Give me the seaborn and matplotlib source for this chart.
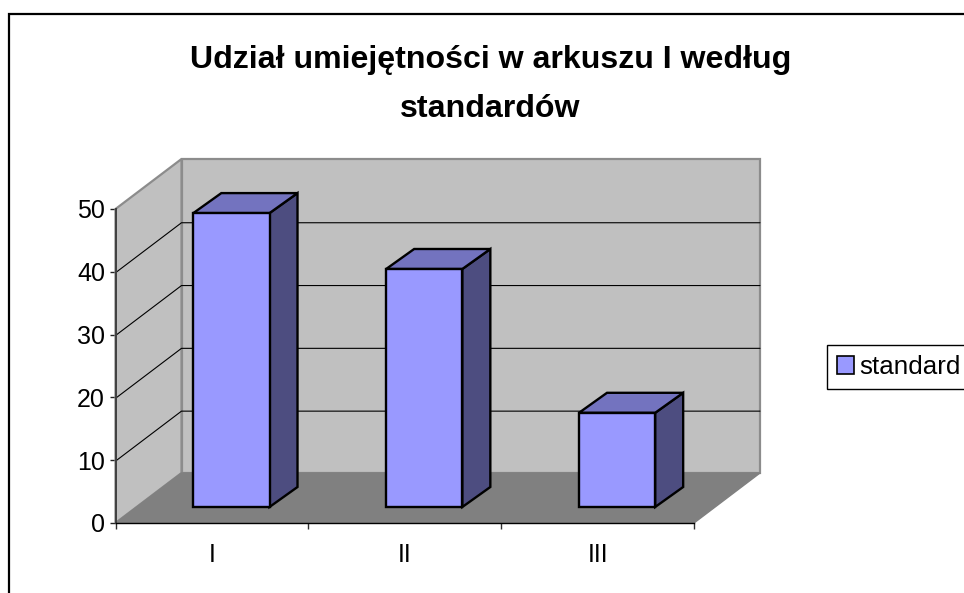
import matplotlib
matplotlib.use("Agg")
import matplotlib.pyplot as plt
from matplotlib.lines import Line2D
from matplotlib.patches import Patch, Polygon
import pandas as pd
import seaborn as sns

categories = ["I", "II", "III"]
values = [46.8, 37.9, 15]
y_ticks = [0, 10, 20, 30, 40, 50]
series_name = "standard"
title = "Udział umiejętności w arkuszu I według\nstandardów"

W, H = 964, 593
sns.set_theme(style="white")
plt.rcParams["font.family"] = ["Liberation Sans", "DejaVu Sans"]

fig = plt.figure(figsize=(W / 100, H / 100), dpi=100, facecolor="white")
L, R, T, B = 115.5, 694, 209, 523
ax = fig.add_axes([L / W, 1 - B / H, (R - L) / W, (B - T) / H])
ax.set_facecolor("none")

ux, uy = (R - L) / 3, (B - T) / 50
x0, x1, y0, y1 = -0.5, 2.5, 0, 50
wdx, wdy = 66 / ux, 50 / uy       # depth of the walls
bdx, bdy = 28 / ux, 20 / uy       # depth of a bar
sx, sy = 19.5 / ux, 16 / uy       # position of the bar inside the floor

WALL, FLOOR, EDGE = "#c0c0c0", "#808080", "#8c8c8c"
FRONT, TOP, SIDE = "#9999ff", "#7373bf", "#4d4d80"

# walls and floor
ax.add_patch(Polygon([(x0 + wdx, y0 + wdy), (x1 + wdx, y0 + wdy), (x1 + wdx, y1 + wdy), (x0 + wdx, y1 + wdy)],
                     fc=WALL, ec=EDGE, lw=1.6, clip_on=False, zorder=1))
ax.add_patch(Polygon([(x0, y0), (x0 + wdx, y0 + wdy), (x0 + wdx, y1 + wdy), (x0, y1)],
                     fc=WALL, ec=EDGE, lw=1.6, clip_on=False, zorder=1))
ax.add_patch(Polygon([(x0, y0), (x1, y0), (x1 + wdx, y0 + wdy), (x0 + wdx, y0 + wdy)],
                     fc=FLOOR, ec=FLOOR, lw=1.0, clip_on=False, zorder=1.5))

# gridlines running over the side wall and back wall
for v in y_ticks[1:-1]:
    ax.plot([x0, x0 + wdx, x1 + wdx], [v - 0.15, v - 0.15 + wdy, v - 0.15 + wdy], color="black", lw=0.8,
            clip_on=False, zorder=2, solid_joinstyle="miter")

df = pd.DataFrame({"category": categories, "value": values})
sns.barplot(data=df, x="category", y="value", ax=ax, color=FRONT, saturation=1,
            width=0.395, edgecolor="black", linewidth=1.7, zorder=4)

for bar in list(ax.containers[0]):
    bar.set_x(bar.get_x() + sx)
    bar.set_y(sy)
    bar.set_clip_on(False)
    bar.set_joinstyle("miter")
    xa, xb = bar.get_x(), bar.get_x() + bar.get_width()
    ya, yb = sy, sy + bar.get_height()
    ax.add_patch(Polygon([(xb, ya), (xb + bdx, ya + bdy), (xb + bdx, yb + bdy), (xb, yb)],
                         fc=SIDE, ec="black", lw=1.7, clip_on=False, zorder=3))
    ax.add_patch(Polygon([(xa, yb), (xb, yb), (xb + bdx, yb + bdy), (xa + bdx, yb + bdy)],
                         fc=TOP, ec="black", lw=1.7, clip_on=False, zorder=3))

ax.set_xlim(x0, x1)
ax.set_ylim(y0, y1)
ax.set_xlabel("")
ax.set_ylabel("")
sns.despine(ax=ax, top=True, right=True)
ax.spines["left"].set_color("#404040")
ax.spines["left"].set_linewidth(1.4)
ax.spines["bottom"].set_color("black")
ax.spines["bottom"].set_linewidth(1.0)
for s in ax.spines.values():
    s.set_zorder(2.5)

ax.set_yticks(y_ticks)
ax.set_xticks(range(len(categories)))
ax.set_xticklabels(categories)
ax.set_xticks([x0, 0.5, 1.5, x1], minor=True)
ax.tick_params(axis="y", which="major", left=True, length=4.5, width=1, color="#202020",
               labelsize=18, pad=3, labelcolor="black")
ax.tick_params(axis="x", which="major", bottom=False, labelsize=18, pad=8.5, labelcolor="black")
ax.tick_params(axis="x", which="minor", bottom=True, length=4.5, width=1, color="#303030")

fig.text(490.5 / W, 1 - 84.5 / H, title, ha="center", va="center", fontsize=23.1,
         fontweight="bold", color="black", linespacing=1.8)

leg = ax.legend(handles=[Patch(fc=FRONT, ec="black", lw=1.2, label=series_name)],
                loc="center left", bbox_to_anchor=(826.5 / W, 1 - 367 / H),
                bbox_transform=fig.transFigure, fontsize=18.7, fancybox=False,
                frameon=True, edgecolor="black", framealpha=1, borderaxespad=0,
                handlelength=0.65, handleheight=0.65, handletextpad=0.23,
                borderpad=0.4, labelcolor="black")
leg.get_frame().set_linewidth(1.0)
leg.set_zorder(6)

# chart border, open at the right and at the bottom
fig.add_artist(Line2D([8.5 / W, 8.5 / W, 1], [0, 1 - 13.5 / H, 1 - 13.5 / H],
                      color="black", lw=1.6, solid_joinstyle="miter"))

fig.savefig("out.png", dpi=100, facecolor="white")
